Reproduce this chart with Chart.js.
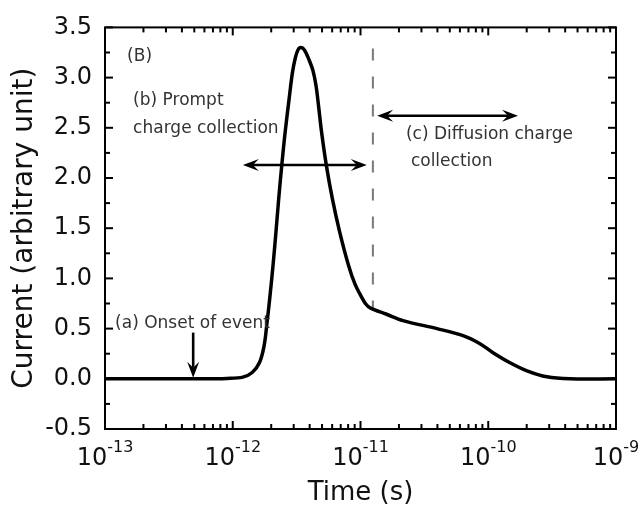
<!DOCTYPE html>
<html>
<head>
<meta charset="utf-8">
<script src="https://cdn.jsdelivr.net/npm/chart.js@4/dist/chart.umd.min.js"></script>
<style>
html, body { margin: 0; padding: 0; background: #fff; }
</style>
</head>
<body>
<canvas id="myChart" width="644" height="512"></canvas>
<script>
// curve (time in s, current in arbitrary units)
const times = [1.0e-13, 5.5e-13, 9.0e-13, 1.20e-12, 1.42e-12, 1.62e-12, 1.76e-12, 1.85e-12,
	1.95e-12, 2.07e-12, 2.18e-12, 2.29e-12, 2.42e-12, 2.57e-12, 2.76e-12, 2.93e-12, 3.09e-12,
	3.24e-12, 3.42e-12, 3.64e-12, 3.95e-12, 4.25e-12, 4.49e-12, 4.71e-12, 4.96e-12, 5.40e-12,
	6.02e-12, 6.86e-12, 8.03e-12, 9.06e-12, 1.02e-11, 1.10e-11, 1.19e-11, 1.60e-11, 2.15e-11,
	3.97e-11, 6.34e-11, 8.61e-11, 1.09e-10, 1.48e-10, 2.01e-10, 2.88e-10, 4.37e-10, 1.0e-9];
const currents = [0, 0, 0.004, 0.017, 0.063, 0.162, 0.33, 0.547,
	0.807, 1.14, 1.466, 1.795, 2.128, 2.455, 2.784, 3.047, 3.196,
	3.275, 3.299, 3.275, 3.179, 3.067, 2.916, 2.702, 2.455, 2.128,
	1.795, 1.466, 1.137, 0.943, 0.814, 0.745, 0.706, 0.643, 0.58,
	0.50, 0.43, 0.35, 0.26, 0.16, 0.08, 0.02, 0, 0];

// dashed separator
const markerTime = 1.25e-11;
const markerCurrents = [3.29, 0.69];

// axes
const xDecades = [1e-13, 1e-12, 1e-11, 1e-10, 1e-9];
const xExponents = ["-13", "-12", "-11", "-10", "-9"];
const yMin = -0.5, yMax = 3.5, yStep = 0.5;

// arrows: [start, end] in data units
const arrowTimes = [[4.9e-13, 4.9e-13], [1.2e-12, 1.12e-11], [1.35e-11, 1.71e-10]];
const arrowCurrents = [[0.46, 0.01], [2.13, 2.13], [2.62, 2.62]];
const arrowBothEnds = [false, true, true];

// notes
const noteTexts = ["(B)", "(b) Prompt", "charge collection", "(c) Diffusion charge", "collection", "(a) Onset of event"];
const noteTimes = [1.49e-13, 1.66e-13, 1.66e-13, 2.27e-11, 2.48e-11, 1.20e-13];
const noteCurrents = [3.21, 2.77, 2.49, 2.43, 2.16, 0.55];

const FONT = "'DejaVu Sans', sans-serif";

const arrowHead = (ctx, x, y, ang) => {
	ctx.save();
	ctx.translate(x, y);
	ctx.rotate(ang);
	ctx.beginPath();
	ctx.moveTo(0, 0);
	ctx.lineTo(-16, -6);
	ctx.lineTo(-10, 0);
	ctx.lineTo(-16, 6);
	ctx.closePath();
	ctx.fill();
	ctx.restore();
};

const decorations = {
	id: "decorations",
	afterDatasetsDraw(chart) {
		const ctx = chart.ctx;
		const xs = chart.scales.x, ys = chart.scales.y;
		const a = chart.chartArea;
		ctx.save();
		ctx.strokeStyle = "#000";
		ctx.fillStyle = "#000";
		ctx.lineWidth = 2;
		const seg = (x0, y0, x1, y1) => {
			ctx.beginPath(); ctx.moveTo(x0, y0); ctx.lineTo(x1, y1); ctx.stroke();
		};

		// inward ticks on all four sides
		for (let d = 0; d < xDecades.length; d++) {
			const px = xs.getPixelForValue(xDecades[d]);
			seg(px, a.bottom, px, a.bottom - 8);
			seg(px, a.top, px, a.top + 8);
			if (d < xDecades.length - 1) {
				for (let m = 2; m < 10; m++) {
					const p = xs.getPixelForValue(m * xDecades[d]);
					seg(p, a.bottom, p, a.bottom - 5);
					seg(p, a.top, p, a.top + 5);
				}
			}
		}
		for (let v = yMin; v <= yMax + 1e-9; v += yStep / 2) {
			const py = ys.getPixelForValue(v);
			const major = Math.abs(v / yStep - Math.round(v / yStep)) < 1e-6;
			const len = major ? 8 : 5;
			seg(a.left, py, a.left + len, py);
			seg(a.right, py, a.right - len, py);
		}
		ctx.strokeRect(a.left, a.top, a.right - a.left, a.bottom - a.top);

		// arrows
		ctx.lineWidth = 2.6;
		arrowTimes.forEach((t, i) => {
			const x0 = xs.getPixelForValue(t[0]), x1 = xs.getPixelForValue(t[1]);
			const y0 = ys.getPixelForValue(arrowCurrents[i][0]), y1 = ys.getPixelForValue(arrowCurrents[i][1]);
			const ang = Math.atan2(y1 - y0, x1 - x0);
			const c = Math.cos(ang), s = Math.sin(ang);
			const sx = arrowBothEnds[i] ? x0 + c * 10 : x0;
			const sy = arrowBothEnds[i] ? y0 + s * 10 : y0;
			seg(sx, sy, x1 - c * 10, y1 - s * 10);
			arrowHead(ctx, x1, y1, ang);
			if (arrowBothEnds[i]) arrowHead(ctx, x0, y0, ang + Math.PI);
		});

		// notes
		ctx.fillStyle = "#333";
		ctx.textAlign = "left";
		ctx.textBaseline = "middle";
		noteTexts.forEach((txt, i) => {
			ctx.font = "17px " + FONT;
			ctx.fillText(txt, xs.getPixelForValue(noteTimes[i]), ys.getPixelForValue(noteCurrents[i]));
		});

		// x tick labels with superscripts
		ctx.fillStyle = "#111";
		ctx.textBaseline = "alphabetic";
		xDecades.forEach((v, i) => {
			const px = xs.getPixelForValue(v);
			ctx.font = "24px " + FONT;
			const w1 = ctx.measureText("10").width;
			ctx.font = "16px " + FONT;
			const w2 = ctx.measureText(xExponents[i]).width;
			const left = px - (w1 + w2) / 2;
			ctx.font = "24px " + FONT;
			ctx.fillText("10", left, a.bottom + 36);
			ctx.font = "16px " + FONT;
			ctx.fillText(xExponents[i], left + w1, a.bottom + 23);
		});
		ctx.restore();
	}
};

const curve = times.map((t, i) => ({ x: t, y: currents[i] }));
const marker = markerCurrents.map(c => ({ x: markerTime, y: c }));

new Chart(document.getElementById("myChart"), {
	type: "line",
	data: {
		datasets: [{
			data: curve,
			borderColor: "#000",
			borderWidth: 3.5,
			pointRadius: 0,
			tension: 0.35,
			fill: false
		}, {
			data: marker,
			borderColor: "#777",
			borderWidth: 2,
			borderDash: [12, 16],
			pointRadius: 0,
			fill: false
		}]
	},
	options: {
		responsive: false,
		animation: false,
		layout: { padding: { top: 24, right: 28, left: 0, bottom: 0 } },
		plugins: { legend: { display: false }, tooltip: { enabled: false } },
		scales: {
			x: {
				type: "logarithmic",
				min: 1e-13,
				max: 1e-9,
				grid: { display: false, drawTicks: false },
				border: { display: false },
				ticks: { display: false },
				title: {
					display: true,
					text: "Time (s)",
					color: "#111",
					font: { family: FONT, size: 26 },
					padding: { top: 0, bottom: 3 }
				},
				afterFit: scale => { scale.height = 83; }
			},
			y: {
				min: yMin,
				max: yMax,
				grid: { display: false, drawTicks: false },
				border: { display: false },
				ticks: {
					stepSize: yStep,
					autoSkip: false,
					padding: 13,
					color: "#111",
					font: { family: FONT, size: 24 },
					callback: v => v.toFixed(1)
				},
				title: {
					display: true,
					text: "Current (arbitrary unit)",
					color: "#111",
					font: { family: FONT, size: 28 },
					padding: { top: 8, bottom: 0 }
				},
				afterFit: scale => { scale.width = 105; }
			}
		}
	},
	plugins: [decorations]
});
</script>
</body>
</html>
